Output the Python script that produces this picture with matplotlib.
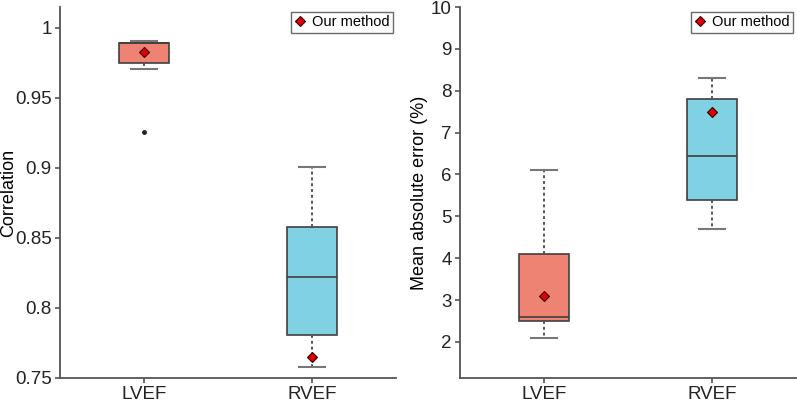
import matplotlib
matplotlib.use("Agg")
import matplotlib.pyplot as plt
from matplotlib.lines import Line2D

plt.rcParams['font.family'] = ['Liberation Sans', 'DejaVu Sans']

categories = ["LVEF", "RVEF"]

# Correlation panel
corr_whislo = [0.971, 0.758]
corr_q1 = [0.975, 0.781]
corr_med = [0.989, 0.822]
corr_q3 = [0.989, 0.858]
corr_whishi = [0.991, 0.901]
corr_fliers = [[0.926], []]
corr_ours = [0.983, 0.765]

# MAE panel
mae_whislo = [2.1, 4.7]
mae_q1 = [2.5, 5.4]
mae_med = [2.6, 6.45]
mae_q3 = [4.1, 7.8]
mae_whishi = [6.1, 8.3]
mae_fliers = [[], []]
mae_ours = [3.1, 7.5]

colors = ["#EE8374", "#80D1E2"]
edge = "#3f3f3f"

fig = plt.figure(figsize=(7.97, 4.04), dpi=100)
ax1 = fig.add_axes([60/797, 1-378/404, 336/797, 371/404])
ax2 = fig.add_axes([460/797, 1-378/404, 336/797, 371/404])


def draw(ax, wl, q1, med, q3, wh, fl, ours, ylim, yticks, ylabels, ylabel, labx):
    stats = []
    for i in range(len(categories)):
        stats.append(dict(label=categories[i], whislo=wl[i], q1=q1[i], med=med[i],
                          q3=q3[i], whishi=wh[i], fliers=fl[i]))
    bp = ax.bxp(stats, positions=[1, 2], widths=0.3, patch_artist=True,
                showfliers=True,
                boxprops=dict(edgecolor=edge, linewidth=1.2),
                medianprops=dict(color=edge, linewidth=1.2),
                whiskerprops=dict(color="#555555", linestyle=(0, (1.5, 1.5)), linewidth=1.4),
                capprops=dict(color="#777777", linewidth=1.5),
                flierprops=dict(marker='o', markersize=2.5, markerfacecolor='#222222',
                                markeredgecolor='#222222'))
    for patch, c in zip(bp['boxes'], colors):
        patch.set_facecolor(c)
    ax.plot([1, 2], ours, linestyle='none', marker='D', markersize=5,
            markerfacecolor='#e00000', markeredgecolor='#330000', markeredgewidth=0.8,
            zorder=5)
    ax.set_xlim(0.5, 2.5)
    ax.set_ylim(*ylim)
    ax.set_yticks(yticks)
    ax.set_yticklabels(ylabels)
    ax.set_xticks([1, 2])
    ax.set_xticklabels(categories)
    ax.set_ylabel(ylabel, fontsize=13)
    ax.yaxis.set_label_coords(labx, 0.5)
    for s in ['top', 'right']:
        ax.spines[s].set_visible(False)
    for s in ['left', 'bottom']:
        ax.spines[s].set_color('#555555')
        ax.spines[s].set_linewidth(1.3)
    ax.tick_params(axis='both', labelsize=13.5, color='#555555', length=3.5,
                   width=1.2, labelcolor='#222222', pad=2.5)
    h = Line2D([], [], linestyle='none', marker='D', markersize=5,
               markerfacecolor='#e00000', markeredgecolor='#330000', markeredgewidth=0.8)
    leg = ax.legend([h], ["Our method"], loc='upper right', bbox_to_anchor=(1.0, 0.995),
                    fontsize=10.5, frameon=True, fancybox=False, handlelength=0.8,
                    handletextpad=0.4, borderpad=0.25, borderaxespad=0.2)
    leg.get_frame().set_edgecolor('#444444')
    leg.get_frame().set_linewidth(1.0)


draw(ax1, corr_whislo, corr_q1, corr_med, corr_q3, corr_whishi, corr_fliers, corr_ours,
     (0.75, 1.015), [0.75, 0.8, 0.85, 0.9, 0.95, 1.0],
     ["0.75", "0.8", "0.85", "0.9", "0.95", "1"], "Correlation", -0.128)
draw(ax2, mae_whislo, mae_q1, mae_med, mae_q3, mae_whishi, mae_fliers, mae_ours,
     (1.14, 10.0), list(range(2, 11)), [str(v) for v in range(2, 11)],
     "Mean absolute error (%)", -0.095)

fig.savefig("out.png", dpi=100)
